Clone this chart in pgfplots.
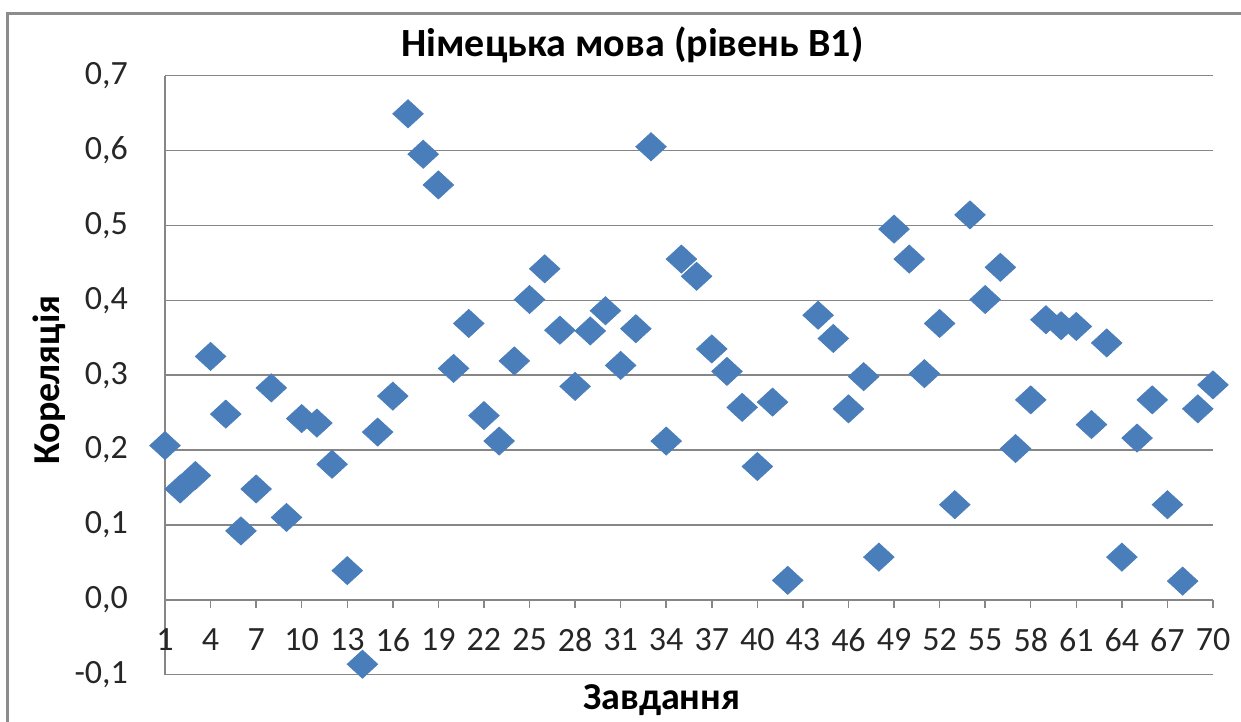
\documentclass[border=0pt]{standalone}
\usepackage{fontspec}
\setmainfont{Carlito}
\usepackage{pgfplots}
\pgfplotsset{compat=1.18}
\definecolor{pts}{RGB}{74,126,187}
\definecolor{gridc}{RGB}{134,134,134}
\begin{document}
\begin{tikzpicture}
\useasboundingbox (0,0) rectangle (620.5pt,361pt);
% chart area frame (only top and left edges are visible)
\draw[color={rgb,255:red,140;green,140;blue,140}, line width=1.5pt] (3.5pt,0) -- (3.5pt,354pt) -- (620.5pt,354pt);
\begin{axis}[
    at={(82.5pt,23.65pt)}, anchor=south west,
    scale only axis, width=524pt, height=299.55pt,
    xmin=1, xmax=70, ymin=-0.1, ymax=0.7,
    axis x line*=middle, axis y line*=left,
    hide obscured x ticks=false,
    axis line style={gridc, line width=0.75pt},
    xtick={1,4,...,70},
    ytick={-0.1,0,0.1,0.2,0.3,0.4,0.5,0.6,0.7},
    yticklabels={{-0,1},{0,0},{0,1},{0,2},{0,3},{0,4},{0,5},{0,6},{0,7}},
    ymajorgrids, grid style={gridc, line width=0.75pt},
    tick align=outside, major tick length=4pt,
    xtick style={gridc, line width=0.75pt},
    ytick style={draw=none},
    /pgf/number format/assume math mode=true,
    tick label style={font=\fontsize{17}{20}\selectfont, text=black!85},
    x tick label style={anchor=center, yshift=-16pt},
    y tick label style={xshift=-11pt},
    title={Німецька мова (рівень B1)},
    title style={font=\fontsize{20}{24}\selectfont\bfseries, at={(axis description cs:0.446,1.051)}, anchor=center, yshift=-6pt},
    xlabel={Завдання},
    xlabel style={font=\fontsize{19}{22}\selectfont\bfseries, at={(axis description cs:0.474,-0.042)}, anchor=center},
    ylabel={Кореляція},
    ylabel style={font=\fontsize{19}{22}\selectfont\bfseries, at={(axis description cs:-0.110,0.492)}, anchor=center, rotate=0},
    clip=false,
]
\addplot[only marks, mark=diamond*, mark size=7pt, mark options={xscale=1.45, fill=pts, draw=pts}]
coordinates {
(1,0.206) (2,0.148) (3,0.166) (4,0.325) (5,0.248) (6,0.092) (7,0.148)
(8,0.283) (9,0.110) (10,0.242) (11,0.236) (12,0.181) (13,0.039) (14,-0.086)
(15,0.224) (16,0.272) (17,0.649) (18,0.595) (19,0.554) (20,0.309) (21,0.369)
(22,0.246) (23,0.212) (24,0.319) (25,0.401) (26,0.442) (27,0.360) (28,0.285)
(29,0.359) (30,0.386) (31,0.313) (32,0.362) (33,0.605) (34,0.212) (35,0.455)
(36,0.432) (37,0.335) (38,0.305) (39,0.257) (40,0.178) (41,0.264) (42,0.026)
(44,0.380) (45,0.349) (46,0.255) (47,0.298) (48,0.057) (49,0.495)
(50,0.455) (51,0.302) (52,0.369) (53,0.127) (54,0.514) (55,0.401) (56,0.444)
(57,0.202) (58,0.267) (59,0.374) (60,0.366) (61,0.365) (62,0.234) (63,0.343)
(64,0.057) (65,0.216) (66,0.267) (67,0.127) (68,0.025) (69,0.255) (70,0.287)
};
\end{axis}
\end{tikzpicture}
\end{document}
